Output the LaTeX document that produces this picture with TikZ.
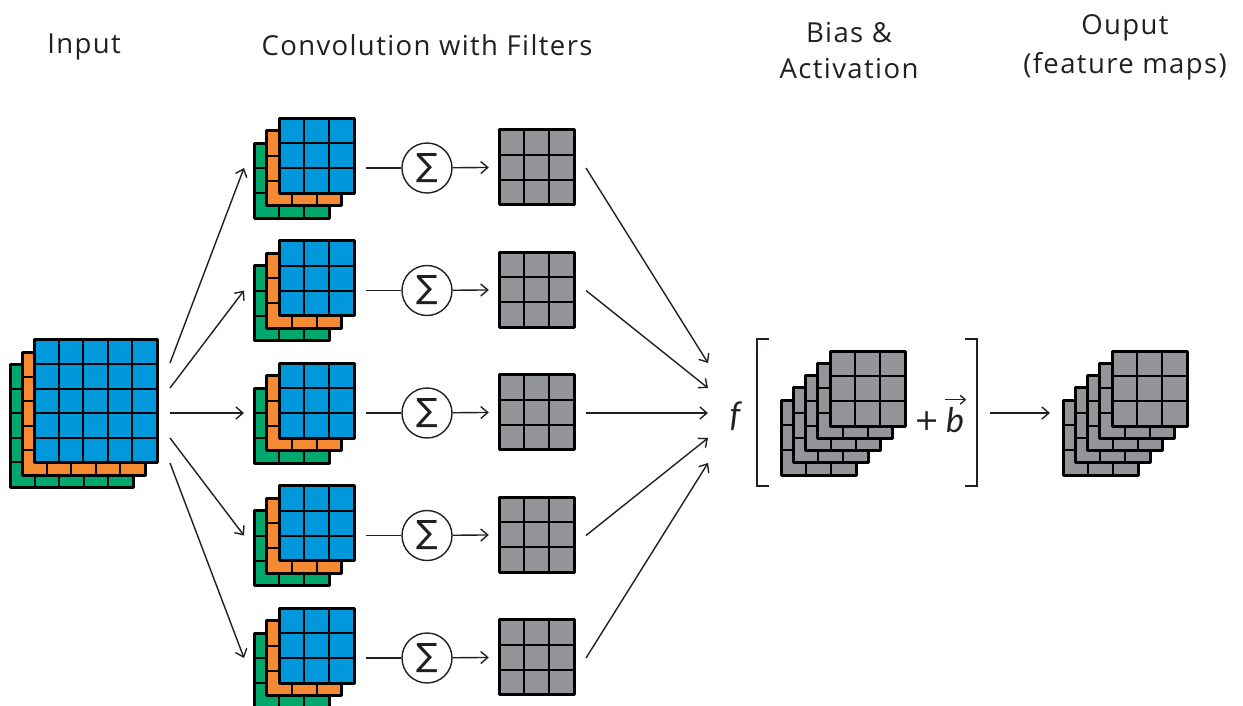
\documentclass[tikz,border=0pt]{standalone}
\usepackage{fontspec}
\setmainfont{Open Sans}[LetterSpace=5]
\newfontfamily\symfam{DejaVu Sans}
\newfontfamily\lblfam{Lato}
\usetikzlibrary{arrows.meta}

\definecolor{cblue}{HTML}{0098DA}
\definecolor{corange}{HTML}{F58A33}
\definecolor{cgreen}{HTML}{00A86E}
\definecolor{cgray}{HTML}{939598}
\definecolor{ink}{HTML}{231F20}

% one square feature grid: left, top, cells, cell size, fill colour
\newcommand\gridsq[5]{%
  \pgfmathsetmacro\gsqside{#3*#4}%
  \pgfmathtruncatemacro\gsqlast{#3-1}%
  \fill[#5] (#1,#2) rectangle ++(\gsqside,\gsqside);
  \foreach \j in {1,...,\gsqlast}{
    \draw[gridinner] (#1+\j*#4,#2) -- ++(0,\gsqside);
    \draw[gridinner] (#1,#2+\j*#4) -- ++(\gsqside,0);
  }
  \draw[gridouter] (#1,#2) rectangle ++(\gsqside,\gsqside);
}

\tikzset{
  gridinner/.style={draw=black, line width=2pt},
  gridouter/.style={draw=black, line width=3pt, line join=round},
  arr/.style={draw=ink, line width=1.4pt, -{Straight Barb[length=7pt,width=12pt]}},
  plain/.style={draw=ink, line width=1.4pt},
  vecarrow/.style={draw=ink, line width=1.3pt, -{Straight Barb[length=5pt,width=9pt]}},
  title/.style={text=ink, font=\fontsize{27.5}{32}\selectfont, anchor=base, inner sep=0pt},
  sumnode/.style={circle, draw=ink, line width=1.4pt, minimum size=50pt, inner sep=0pt,
                  text=ink, font=\symfam\fontsize{32}{32}\selectfont},
  graybox/.style={rectangle, fill=cgray, minimum size=75pt, inner sep=0pt},
  mathlbl/.style={text=ink, font=\lblfam\fontsize{34}{36}\selectfont, inner sep=0pt, anchor=base},
}

\begin{document}
\begin{tikzpicture}[x=1pt, y=-1pt]
\useasboundingbox (0,0) rectangle (1243,705);

% column titles
\node[title] (tin)   at (84,53)   {Input};
\node[title] (tconv) at (427,55)  {Convolution with Filters};
\node[title] (tb1)   at (849,42)  {Bias \&};
\node[title] (tb2)   at (849,78)  {Activation};
\node[title] (to1)   at (1125,34) {Ouput};
\node[title] (to2)   at (1125,73) {(feature maps)};

% input volume (three channels)
\gridsq{10}{364}{5}{24.6}{cgreen}
\gridsq{22}{352}{5}{24.6}{corange}
\gridsq{34}{339.5}{5}{24.6}{cblue}

% filters, channel sums and the resulting maps
\foreach \k/\c in {1/168,2/290.5,3/413,4/535.5,5/658}{
  \pgfmathsetmacro\ys{363+25*(\k-1)}
  \gridsq{254}{\c-25}{3}{25}{cgreen}
  \gridsq{266.5}{\c-37.5}{3}{25}{corange}
  \gridsq{279}{\c-50}{3}{25}{cblue}
  \coordinate (in\k) at (170,\ys);
  \coordinate (fl\k) at (244,\c);
  \coordinate (fr\k) at (366,\c);
  \node[sumnode] (s\k) at (427,\c) {∑};
  \node[graybox] (g\k) at (536.5,\c-1) {};
  \gridsq{499}{\c-38.5}{3}{25}{cgray}
  \coordinate (go\k) at (586,\c);
  \coordinate (fin\k) at (708,\ys);
  \draw[arr] (in\k) -- (fl\k);
  \draw[plain] (fr\k) -- (s\k);
  \draw[arr, shorten >=10pt] (s\k) -- (g\k);
  \draw[arr] (go\k) -- (fin\k);
}

% activation of the biased maps
\node[mathlbl] (fa) at (735,426) {\itshape f};
\draw[plain] (769,339) -- (757,339) -- (757,486) -- (769,486);
\draw[plain] (965,339) -- (977,339) -- (977,486) -- (965,486);
\foreach \i in {0,...,4}{
  \gridsq{781+12.25*\i}{400-12.25*\i}{3}{25}{cgray}
}
\node[mathlbl, font=\symfam\fontsize{30}{30}\selectfont] (plus) at (927,430) {+};
\node[mathlbl] (bvar) at (955,432) {\itshape b};
% vector accent over b
\draw[vecarrow] ([xshift=-1pt,yshift=7pt]bvar.north west) -- ([xshift=2pt,yshift=7pt]bvar.north east);

% output feature maps
\coordinate (bo) at (990,413);
\coordinate (oi) at (1050,413);
\draw[arr] (bo) -- (oi);
\foreach \i in {0,...,4}{
  \gridsq{1063+12.25*\i}{400-12.25*\i}{3}{25}{cgray}
}
\end{tikzpicture}
\end{document}
